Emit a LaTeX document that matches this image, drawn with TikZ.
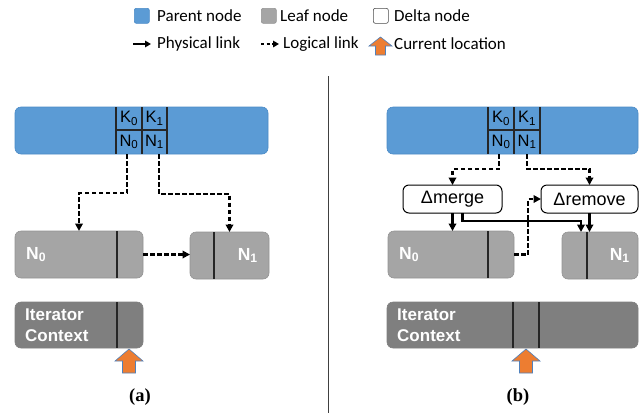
\documentclass[tikz,border=0pt]{standalone}
\usepackage{fontspec}
\setmainfont{Liberation Sans}
\newfontfamily\legendfont{Carlito}
\newfontfamily\capfont{Liberation Serif}
\usetikzlibrary{arrows.meta,calc}
\definecolor{parentblue}{HTML}{5B9BD5}
\definecolor{parentedge}{HTML}{4A8AC6}
\definecolor{leafgray}{HTML}{A5A5A5}
\definecolor{leafedge}{HTML}{939393}
\definecolor{itergray}{HTML}{7F7F7F}
\definecolor{curorange}{HTML}{ED7D31}
\definecolor{curedge}{HTML}{4F81BD}
\tikzset{
 box/.style={rounded corners=6pt, inner sep=0pt, outer sep=0pt, anchor=north west, line width=0.6pt},
 parentbox/.style={box, fill=parentblue, draw=parentedge},
 leafbox/.style={box, fill=leafgray, draw=leafedge},
 iterbox/.style={box, fill=itergray, draw=itergray},
 deltabox/.style={box, fill=white, draw=black, line width=1pt, font=\fontsize{18}{18}\selectfont},
 cell/.style={inner sep=0pt, outer sep=0pt, anchor=north west, font=\fontsize{16.5}{16.5}\selectfont},
 divider/.style={line width=1.3pt, draw=black!85},
 leaftext/.style={text=white, font=\bfseries\fontsize{17.5}{17.5}\selectfont, inner sep=0pt},
 itertext/.style={text=white, font=\bfseries\fontsize{17}{20.5}\selectfont, inner sep=0pt, align=left, anchor=west},
 physlink/.style={line width=2.1pt, -{Triangle[length=7.5pt,width=7.5pt]}},
 loglink/.style={physlink, dash pattern=on 4.5pt off 2.5pt},
 curloc/.style={fill=curorange, draw=curedge, line width=0.6pt, line join=miter},
 legtext/.style={font=\legendfont\fontsize{17}{17}\selectfont, anchor=west, inner sep=0pt},
 legsq/.style={rounded corners=2pt, line width=0.6pt, minimum size=15pt, inner sep=0pt, anchor=north west},
 caplabel/.style={font=\capfont\bfseries\fontsize{18.5}{18.5}\selectfont, inner sep=0pt},
 curlocpic/.pic={\draw[curloc] (0,0) -- (14,12) -- (6.5,12) -- (6.5,24) -- (-6.5,24) -- (-6.5,12) -- (-14,12) -- cycle;}
}
\begin{document}
\begin{tikzpicture}[x=1pt,y=-1pt]
\useasboundingbox (0,0) rectangle (639,413);
% legend
\node[legsq, fill=parentblue, draw=parentedge] (lgp) at (134,8) {};
\node[legtext] (lgpt) at (157,15.5) {Parent node};
\node[legsq, fill=leafgray, draw=leafedge] (lgl) at (261,8) {};
\node[legtext] (lglt) at (280,15.5) {Leaf node};
\node[legsq, fill=white, draw=black!70] (lgd) at (373,8) {};
\node[legtext] (lgdt) at (394,15.5) {Delta node};
\coordinate (lps) at (133,44); \coordinate (lpe) at (151,44);
\draw[physlink, line width=1.8pt, -{Triangle[length=6pt,width=6.5pt]}] (lps) -- (lpe);
\node[legtext] (lgph) at (157,44) {Physical link};
\coordinate (lls) at (261,44); \coordinate (lle) at (279,44);
\draw[loglink, line width=1.8pt, dash pattern=on 3pt off 2.5pt, -{Triangle[length=6pt,width=6.5pt]}] (lls) -- (lle);
\node[legtext] (lglo) at (283,44) {Logical link};
\draw[curloc] (380.5,37) -- (392,46) -- (385.5,46) -- (385.5,55) -- (375.5,55) -- (375.5,46) -- (369,46) -- cycle;
\node[legtext] (lgcl) at (394,44) {Current location};
% separator
\draw[line width=1pt, black!75] (328,76) -- (328,413);

% ---------- panel (a)
\node[parentbox, minimum width=253pt, minimum height=47pt] (pa) at (15,107) {};
\node[cell, minimum width=26pt, minimum height=23pt] (ck0a) at (116,107) {K\textsubscript{0}};
\node[cell, minimum width=25pt, minimum height=23pt] (ck1a) at (142,107) {K\textsubscript{1}};
\node[cell, minimum width=26pt, minimum height=24pt] (cn0a) at (116,130) {N\textsubscript{0}};
\node[cell, minimum width=25pt, minimum height=24pt] (cn1a) at (142,130) {N\textsubscript{1}};
\draw[divider] (ck0a.north west) -- (cn0a.south west);
\draw[divider] (ck1a.north west) -- (cn1a.south west);
\draw[divider] (ck1a.north east) -- (cn1a.south east);
\draw[divider] (cn0a.north west) -- (cn1a.north east);

\node[leafbox, minimum width=128pt, minimum height=47pt] (la0) at (15,231) {};
\draw[divider] ($(la0.north west)+(102,0)$) -- ($(la0.south west)+(102,0)$);
\node[leaftext, anchor=west] (la0t) at ($(la0.west)+(11,0)$) {N\textsubscript{0}};
\node[leafbox, minimum width=79pt, minimum height=47pt] (la1) at (190,232) {};
\draw[divider] ($(la1.north west)+(24,0)$) -- ($(la1.south west)+(24,0)$);
\node[leaftext, anchor=east] (la1t) at ($(la1.east)+(-11,0)$) {N\textsubscript{1}};

\node[iterbox, minimum width=128pt, minimum height=46pt] (ia) at (15,302) {};
\draw[divider] ($(ia.north west)+(102,0)$) -- ($(ia.south west)+(102,0)$);
\node[itertext] (iat) at ($(ia.west)+(10,0)$) {Iterator\\Context};
\pic at (129,349) {curlocpic};

\draw[loglink] ($(cn0a.south)+(-2,0)$) -- ++(0,39) -| (la0.north);
\draw[loglink] ($(cn1a.south)+(4.5,0)$) -- ++(0,40) -| (la1.north);
\draw[loglink] (la0.east) -- (la0.east -| la1.west);

\node[caplabel] (capa) at (140,397) {(a)};

% ---------- panel (b)
\node[parentbox, minimum width=251pt, minimum height=47pt] (pb) at (387,107) {};
\node[cell, minimum width=26pt, minimum height=23pt] (ck0b) at (488,107) {K\textsubscript{0}};
\node[cell, minimum width=26pt, minimum height=23pt] (ck1b) at (514,107) {K\textsubscript{1}};
\node[cell, minimum width=26pt, minimum height=24pt] (cn0b) at (488,130) {N\textsubscript{0}};
\node[cell, minimum width=26pt, minimum height=24pt] (cn1b) at (514,130) {N\textsubscript{1}};
\draw[divider] (ck0b.north west) -- (cn0b.south west);
\draw[divider] (ck1b.north west) -- (cn1b.south west);
\draw[divider] (ck1b.north east) -- (cn1b.south east);
\draw[divider] (cn0b.north west) -- (cn1b.north east);

\node[deltabox, minimum width=99pt, minimum height=28pt] (dm) at (403,185) {Δmerge};
\node[deltabox, minimum width=97pt, minimum height=28pt] (dr) at (541,185) {Δremove};

\node[leafbox, minimum width=126pt, minimum height=47pt] (lb0) at (388,231) {};
\draw[divider] ($(lb0.north west)+(100,0)$) -- ($(lb0.south west)+(100,0)$);
\node[leaftext, anchor=west] (lb0t) at ($(lb0.west)+(11,0)$) {N\textsubscript{0}};
\node[leafbox, minimum width=76pt, minimum height=47pt] (lb1) at (562,232) {};
\draw[divider] ($(lb1.north west)+(25,0)$) -- ($(lb1.south west)+(25,0)$);
\node[leaftext, anchor=east] (lb1t) at ($(lb1.east)+(-8,0)$) {N\textsubscript{1}};

\node[iterbox, minimum width=251pt, minimum height=46pt] (ib) at (387,302) {};
\draw[divider] ($(ib.north west)+(126,0)$) -- ($(ib.south west)+(126,0)$);
\draw[divider] ($(ib.north west)+(152,0)$) -- ($(ib.south west)+(152,0)$);
\node[itertext] (ibt) at ($(ib.west)+(10,0)$) {Iterator\\Context};
\pic at (526,349) {curlocpic};

\draw[loglink] ($(cn0b.south)+(-2,0)$) -- ++(0,15) -| (dm.north);
\draw[loglink] (cn1b.south) -- ++(0,15) -| (dr.north);
\draw[physlink] (dm.south) -- (dm.south |- lb0.north);
\coordinate (dmout) at ($(dm.south)+(10,0)$);
\coordinate (lb1in) at ($(lb1.north west)+(19,0)$);
\draw[physlink] (dmout) -- ++(0,8) -| (lb1in);
\draw[physlink] (dr.south) -- (dr.south |- lb1.north);
\draw[loglink] (lb0.east) -- ++(14,0) |- (dr.west);

\node[caplabel] (capb) at (518,397) {(b)};
\end{tikzpicture}
\end{document}
